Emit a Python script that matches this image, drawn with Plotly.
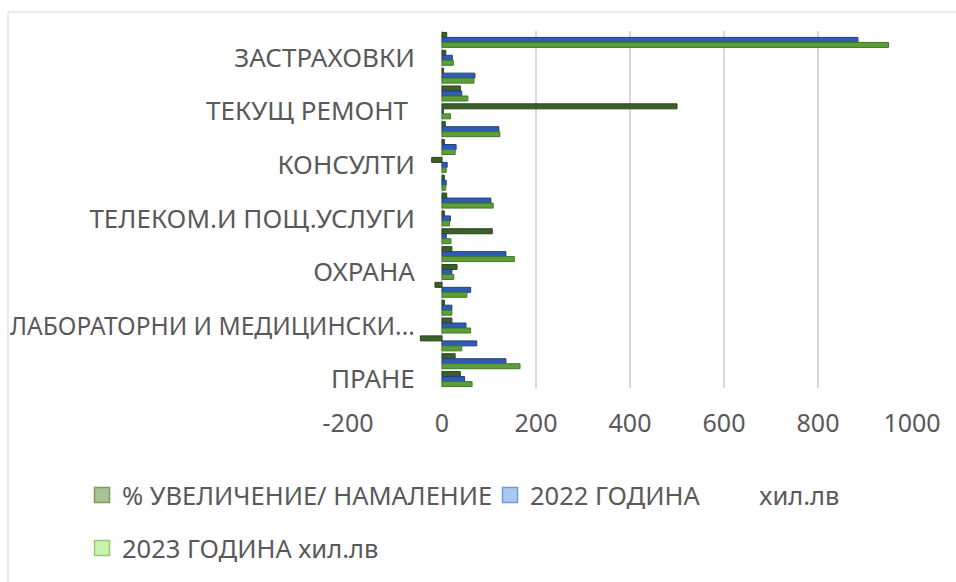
import plotly.graph_objects as go

# Categories, top to bottom (only every third label is shown on the chart)
categories = [
    "КОМУНАЛНИ УСЛУГИ", "ЗАСТРАХОВКИ", "АБОНАМЕНТНО ОБСЛУЖВАНЕ",
    "ГОРИВА", "ТЕКУЩ РЕМОНТ", "ХРАНА",
    "ВОДА", "КОНСУЛТИ", "КОМАНДИРОВКИ",
    "ЕЛ. ЕНЕРГИЯ", "ТЕЛЕКОМ.И ПОЩ.УСЛУГИ", "ОБУЧЕНИЕ",
    "КОНСУМАТИВИ", "ОХРАНА", "ДЕЗИНФЕКЦИЯ",
    "ТАКСИ", "ЛАБОРАТОРНИ И МЕДИЦИНСКИ ИЗСЛЕДВАНИЯ", "СОФТУЕР",
    "МЕДИКАМЕНТИ", "ПРАНЕ",
]
shown_categories = ["ЗАСТРАХОВКИ", "ТЕКУЩ РЕМОНТ", "КОНСУЛТИ", "ТЕЛЕКОМ.И ПОЩ.УСЛУГИ",
                    "ОХРАНА", "ЛАБОРАТОРНИ И МЕДИЦИНСКИ ИЗСЛЕДВАНИЯ", "ПРАНЕ"]
shown_text = ["ЗАСТРАХОВКИ", "ТЕКУЩ РЕМОНТ\u00a0", "КОНСУЛТИ", "ТЕЛЕКОМ.И ПОЩ.УСЛУГИ",
              "ОХРАНА", "<span style='font-size:24.5px'>ЛАБОРАТОРНИ И МЕДИЦИНСКИ...</span>", "ПРАНЕ"]

pct_change = [10, 8, 3, 39, 500, 7, 5, -22, 5, 10,
              5, 107, 21, 32, -15, 5, 21, -46, 28, 39]
year_2022 = [885, 22, 70, 42, 3, 121, 30, 11, 9, 104,
             18, 9, 136, 21, 61, 21, 51, 74, 136, 48]
year_2023 = [950, 24, 68, 55, 18, 123, 28, 9, 8, 109,
             16, 19, 154, 25, 53, 21, 61, 42, 166, 64]

x_ticks = [-200, 0, 200, 400, 600, 800, 1000]

series_names = ["% УВЕЛИЧЕНИЕ/ НАМАЛЕНИЕ",
                "2022 ГОДИНА" + "\u00a0" * 9 + "хил.лв",
                "2023 ГОДИНА хил.лв"]
bar_fill = ["#3c5f2a", "#2f5cb0", "#5e9d3c"]
bar_line = ["#2a4419", "#1f3f82", "#3f7a25"]
legend_fill = ["#a8c492", "#a9c9f3", "#c9f2ab"]
legend_line = ["#7c9a66", "#6f9ad6", "#96c97a"]
legend_ids = ["legend", "legend2", "legend3"]

fig = go.Figure()
for vals, name, fc, lc in zip([pct_change, year_2022, year_2023], series_names, bar_fill, bar_line):
    fig.add_trace(go.Bar(
        y=categories, x=vals, orientation="h", name=name,
        marker=dict(color=fc, line=dict(color=lc, width=1)),
        showlegend=False,
    ))
for name, fc, lc, lg in zip(series_names, legend_fill, legend_line, legend_ids):
    fig.add_trace(go.Scatter(
        x=[None], y=[None], mode="markers", name=name, legend=lg,
        marker=dict(symbol="square", size=15, color=fc, line=dict(color=lc, width=1.5)),
    ))

L, R, T, B = 348, 44, 31, 194
W, H = 956, 582
pw = W - L - R
ph = H - T - B

gray = "#595959"
xtick_font = dict(family="Noto Sans, Open Sans, sans-serif", size=25, color=gray)
ytick_font = dict(family="Noto Sans, Open Sans, sans-serif", size=26, color=gray)
legend_font = dict(family="Noto Sans, Open Sans, sans-serif", size=25.5, color=gray)

def leg(xpx, ytop):
    return dict(orientation="h", xref="container", yref="container",
                x=xpx / W, y=1 - ytop / H, xanchor="left", yanchor="top",
                font=legend_font, bgcolor="rgba(0,0,0,0)")

fig.update_layout(
    width=W, height=H,
    margin=dict(l=L, r=R, t=T, b=B),
    paper_bgcolor="white", plot_bgcolor="white",
    barmode="group", bargap=0.16, bargroupgap=0.0,
    xaxis=dict(
        range=[-200, 1000], tickvals=x_ticks, ticktext=[str(v) for v in x_ticks],
        showgrid=True, gridcolor="#d9d9d9", gridwidth=1.5, zeroline=False,
        showline=False, ticks="outside", ticklen=13, tickcolor="rgba(0,0,0,0)",
        tickfont=xtick_font, automargin=False, fixedrange=True,
    ),
    yaxis=dict(
        type="category", categoryorder="array", categoryarray=categories,
        range=[len(categories) - 0.5, -0.5],
        tickvals=shown_categories, ticktext=shown_text,
        anchor="free", position=(442 - L) / pw, showline=False, showgrid=False,
        zeroline=False, ticks="outside", ticklen=22, tickcolor="rgba(0,0,0,0)",
        tickfont=ytick_font, automargin=False, fixedrange=True,
    ),
    legend=leg(82, 472),
    legend2=leg(490, 472),
    legend3=leg(82, 525),
    shapes=[dict(
        type="rect", xref="paper", yref="paper",
        x0=(8 - L) / pw, x1=(1000 - L) / pw,
        y0=(ph + T - 620) / ph, y1=(ph + T - 12) / ph,
        line=dict(color="#d9d9d9", width=1), fillcolor="rgba(0,0,0,0)", layer="below",
    )],
)

fig.write_html(
    "out.html",
    config={"displayModeBar": False},
    post_script="document.body.style.margin='0';document.body.style.overflow='hidden';",
)
